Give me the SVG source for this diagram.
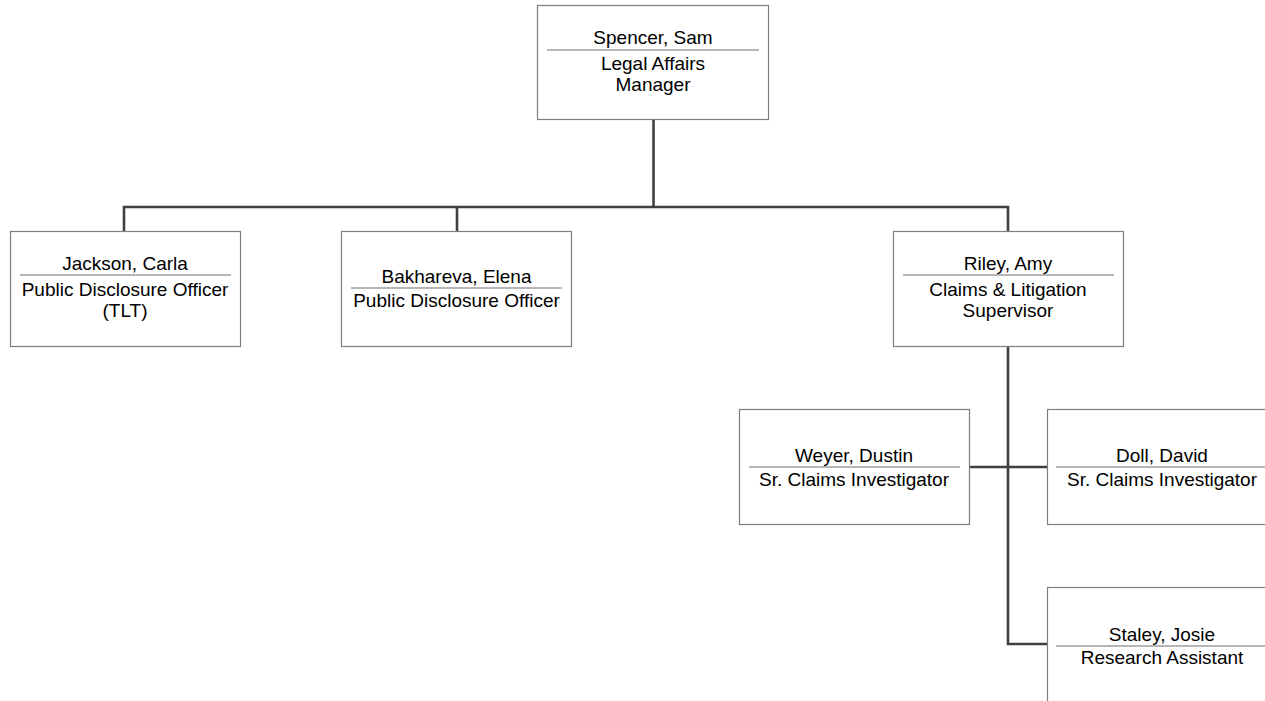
<svg xmlns="http://www.w3.org/2000/svg" width="1265" height="701" viewBox="0 0 1265 701">
<style>
.box{fill:#ffffff;stroke:#7f7f7f;stroke-width:1.2}
.div{stroke:#6f6f6f;stroke-width:1.2}
.t{font-family:"Liberation Sans",Arial,sans-serif;font-size:19px;fill:#000;text-anchor:middle}
.c{fill:none;stroke:#404040;stroke-width:2.6}
</style>
<rect width="1265" height="701" fill="#ffffff"/>
<g id="connectors">
<path class="c" d="M653.5,119 V207"/>
<path class="c" d="M124,231 V207 H1008 V231"/>
<path class="c" d="M457,207 V231"/>
<path class="c" d="M1008,346 V644 H1047"/>
<path class="c" d="M969,467 H1047"/>
</g>
<g id="spencer">
<rect class="box" x="537.5" y="5.5" width="231" height="114"/>
<line class="div" x1="547" y1="50" x2="759" y2="50"/>
<text class="t" x="653" y="44">Spencer, Sam</text>
<text class="t" x="653" y="70">Legal Affairs</text>
<text class="t" x="653" y="91">Manager</text>
</g>
<g id="jackson">
<rect class="box" x="10.5" y="231.5" width="230" height="115"/>
<line class="div" x1="20" y1="275" x2="231" y2="275"/>
<text class="t" x="125" y="270">Jackson, Carla</text>
<text class="t" x="125" y="296">Public Disclosure Officer</text>
<text class="t" x="125" y="317">(TLT)</text>
</g>
<g id="bakhareva">
<rect class="box" x="341.5" y="231.5" width="230" height="115"/>
<line class="div" x1="351" y1="288" x2="562" y2="288"/>
<text class="t" x="456.5" y="283">Bakhareva, Elena</text>
<text class="t" x="456.5" y="307">Public Disclosure Officer</text>
</g>
<g id="riley">
<rect class="box" x="893.5" y="231.5" width="230" height="115"/>
<line class="div" x1="903" y1="275" x2="1114" y2="275"/>
<text class="t" x="1008" y="270">Riley, Amy</text>
<text class="t" x="1008" y="296">Claims &amp; Litigation</text>
<text class="t" x="1008" y="317">Supervisor</text>
</g>
<g id="weyer">
<rect class="box" x="739.5" y="409.5" width="230" height="115"/>
<line class="div" x1="749" y1="467" x2="960" y2="467"/>
<text class="t" x="854" y="462">Weyer, Dustin</text>
<text class="t" x="854" y="486">Sr. Claims Investigator</text>
</g>
<g id="doll">
<rect class="box" x="1047.5" y="409.5" width="230" height="115"/>
<line class="div" x1="1056" y1="467" x2="1268" y2="467"/>
<text class="t" x="1162" y="462">Doll, David</text>
<text class="t" x="1162" y="486">Sr. Claims Investigator</text>
</g>
<g id="staley">
<rect class="box" x="1047.5" y="587.5" width="230" height="130"/>
<line class="div" x1="1056" y1="646" x2="1268" y2="646"/>
<text class="t" x="1162" y="641">Staley, Josie</text>
<text class="t" x="1162" y="664">Research Assistant</text>
</g>
</svg>
